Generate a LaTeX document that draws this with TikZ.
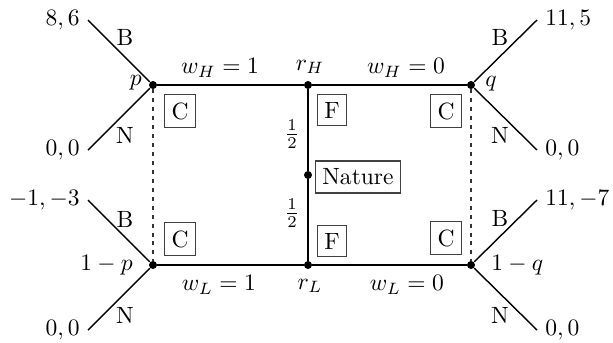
\documentclass[tikz,border=0pt]{standalone}
\usepackage{tikz}
\begin{document}
\begin{tikzpicture}[x=0.425pt,y=-0.425pt,
  dot/.style={circle,fill=black,inner sep=0pt,minimum size=3.4pt},
  mainline/.style={line width=1pt},
  branch/.style={line width=0.6pt},
  infoset/.style={line width=0.45pt,draw=black!80,dash pattern=on 1.7pt off 2.1pt},
  playerbox/.style={draw=black!75,line width=0.5pt,inner xsep=3pt,minimum height=13pt}]
\useasboundingbox (0,0) rectangle (613,342);

% decision nodes
\node[dot] (p)  at (153,85) {};
\node[dot] (rH) at (308,85) {};
\node[dot] (q)  at (471,85) {};
\node[dot] (pl) at (153,265) {};
\node[dot] (rL) at (308,265) {};
\node[dot] (ql) at (471,265) {};
\node[dot] (nat) at (308,175) {};

% payoffs
\node[anchor=east] (a1) at (88,20)  {$8,6$};
\node[anchor=east] (a2) at (88,150) {$0,0$};
\node[anchor=east] (a3) at (88,200) {$-1,-3$};
\node[anchor=east] (a4) at (88,330) {$0,0$};
\node[anchor=west] (b1) at (537,20)  {$11,5$};
\node[anchor=west] (b2) at (537,150) {$0,0$};
\node[anchor=west] (b3) at (537,200) {$11,-7$};
\node[anchor=west] (b4) at (537,330) {$0,0$};

% main paths
\draw[mainline] (p) -- (rH) -- (q);
\draw[mainline] (pl) -- (rL) -- (ql);
\draw[mainline] (rH) -- (nat) -- (rL);

% information sets
\draw[infoset] (p) -- (pl);
\draw[infoset] (q) -- (ql);

% terminal branches
\draw[branch] (p) -- (a1.east);
\draw[branch] (p) -- (a2.east);
\draw[branch] (pl) -- (a3.east);
\draw[branch] (pl) -- (a4.east);
\draw[branch] (q) -- (b1.west);
\draw[branch] (q) -- (b2.west);
\draw[branch] (ql) -- (b3.west);
\draw[branch] (ql) -- (b4.west);

% action labels
\node (lb1) at (125,37)  {B};
\node (ln1) at (125,135) {N};
\node (lb2) at (125,219) {B};
\node (ln2) at (125,315) {N};
\node (rb1) at (500,37)  {B};
\node (rn1) at (500,135) {N};
\node (rb2) at (500,218) {B};
\node (rn2) at (500,315) {N};

% probabilities and node labels
\node[anchor=east] (lp)  at (150,83)  {$p$};
\node[anchor=east] (lpl) at (141,265) {$1-p$};
\node[anchor=west] (lq)  at (477,84)  {$q$};
\node[anchor=west] (lql) at (483,265) {$1-q$};
\node (lrH) at (310,67)  {$r_H$};
\node (lrL) at (310,286) {$r_L$};
\node (w1) at (220,68)  {$w_H=1$};
\node (w2) at (406,68)  {$w_H=0$};
\node (w3) at (219,285) {$w_L=1$};
\node (w4) at (407,285) {$w_L=0$};
\node (h1) at (292,134) {$\frac12$};
\node (h2) at (292,213) {$\frac12$};

% players
\node[playerbox] (c1) at (180,111) {C};
\node[playerbox] (c2) at (180,239) {C};
\node[playerbox] (c3) at (446,111) {C};
\node[playerbox] (c4) at (446,238) {C};
\node[playerbox] (f1) at (332,110) {F};
\node[playerbox] (f2) at (332,241) {F};
\node[playerbox] (nb) at (358,177) {Nature};
\end{tikzpicture}
\end{document}
